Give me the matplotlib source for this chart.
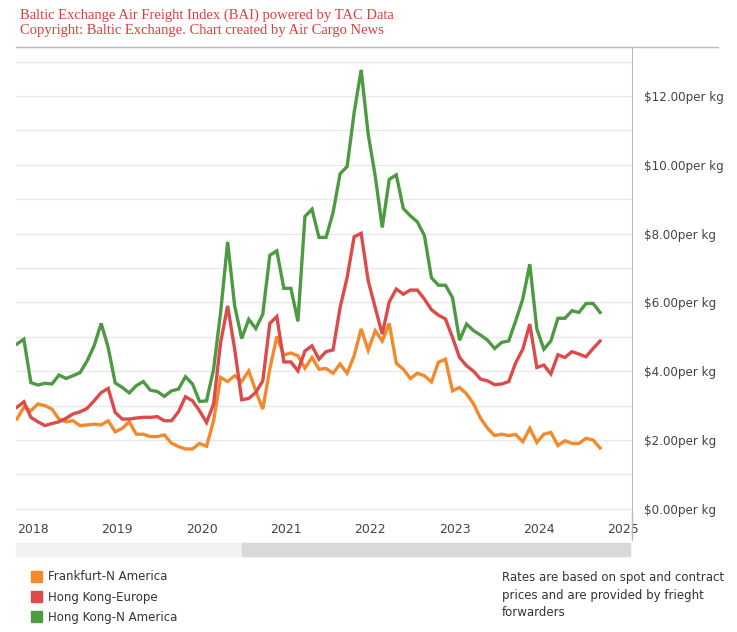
import numpy as np
import matplotlib.pyplot as plt
from matplotlib.patches import Rectangle

# monthly index values, USD per kg, first point ~Nov 2017
frankfurt_na = [2.61, 2.95, 2.85, 3.05, 3.00, 2.90, 2.61, 2.53, 2.56, 2.42,
                2.44, 2.46, 2.44, 2.56, 2.24, 2.34, 2.53, 2.17, 2.17, 2.10,
                2.10, 2.15, 1.91, 1.81, 1.74, 1.74, 1.90, 1.82, 2.56, 3.82,
                3.70, 3.87, 3.70, 4.01, 3.43, 2.90, 4.06, 5.01, 4.47, 4.53,
                4.45, 4.09, 4.40, 4.06, 4.08, 3.94, 4.21, 3.94, 4.45, 5.23,
                4.61, 5.18, 4.88, 5.39, 4.23, 4.06, 3.79, 3.94, 3.87, 3.69,
                4.26, 4.35, 3.43, 3.53, 3.34, 3.05, 2.63, 2.34, 2.13, 2.17,
                2.13, 2.16, 1.95, 2.34, 1.93, 2.17, 2.22, 1.84, 1.98, 1.90,
                1.90, 2.05, 2.00, 1.77]
hk_europe = [2.95, 3.11, 2.66, 2.53, 2.42, 2.48, 2.53, 2.63, 2.76, 2.82,
             2.92, 3.14, 3.38, 3.50, 2.80, 2.61, 2.61, 2.64, 2.66, 2.66,
             2.68, 2.56, 2.56, 2.82, 3.26, 3.14, 2.85, 2.51, 3.05, 4.84,
             5.90, 4.64, 3.17, 3.21, 3.38, 3.72, 5.39, 5.59, 4.27, 4.27,
             4.01, 4.59, 4.74, 4.35, 4.57, 4.62, 5.85, 6.72, 7.91, 8.01,
             6.63, 5.85, 5.08, 6.02, 6.39, 6.24, 6.36, 6.36, 6.10, 5.79,
             5.63, 5.52, 4.98, 4.40, 4.16, 4.00, 3.77, 3.72, 3.61, 3.63,
             3.70, 4.25, 4.64, 5.37, 4.11, 4.18, 3.92, 4.48, 4.40, 4.57,
             4.50, 4.42, 4.66, 4.88]
hk_na = [4.79, 4.93, 3.67, 3.60, 3.65, 3.63, 3.89, 3.79, 3.87, 3.96,
         4.30, 4.74, 5.39, 4.69, 3.66, 3.53, 3.37, 3.58, 3.70, 3.45,
         3.41, 3.27, 3.43, 3.48, 3.84, 3.63, 3.12, 3.14, 4.06, 5.71,
         7.76, 5.90, 4.95, 5.51, 5.24, 5.66, 7.37, 7.50, 6.41, 6.41,
         5.45, 8.50, 8.71, 7.89, 7.89, 8.61, 9.74, 9.95, 11.52, 12.76,
         10.89, 9.68, 8.18, 9.58, 9.71, 8.73, 8.52, 8.34, 7.95, 6.72,
         6.50, 6.50, 6.14, 4.90, 5.37, 5.18, 5.05, 4.90, 4.66, 4.84,
         4.88, 5.47, 6.10, 7.11, 5.23, 4.64, 4.88, 5.54, 5.54, 5.76,
         5.71, 5.97, 5.97, 5.71]
series_names = ['Frankfurt-N America', 'Hong Kong-Europe', 'Hong Kong-N America']
colors = ['#f28a2b', '#dc4a4a', '#4e9a43']
years = list(range(2018, 2026))

t = 2017.81 + np.arange(len(hk_na)) / 12

fig = plt.figure(figsize=(7.37, 6.32), dpi=100)
ax = fig.add_axes([0.0217, 0.190, 0.8358, 0.7358])

for vals, c in zip([frankfurt_na, hk_europe, hk_na], colors):
    ax.plot(t, vals, color=c, lw=2.4, solid_joinstyle='miter')

ax.set_xlim(2017.80, 2025.105)
ax.set_ylim(-0.09, 13.43)
ax.yaxis.tick_right()
ax.set_yticks(range(0, 13, 2))
ax.set_yticklabels([f'${v}.00per kg' for v in range(0, 13, 2)], color='#444444', fontsize=8.6)
ax.set_yticks(range(0, 14), minor=True)
ax.grid(True, which='both', axis='y', color='#e8e8e8', lw=1)
ax.set_xticks(years)
ax.set_xticklabels([str(y) for y in years], color='#444444', fontsize=9)
ax.tick_params(axis='y', which='both', length=0, pad=9)
ax.tick_params(axis='x', length=0, pad=8)
for s in ['left', 'bottom']:
    ax.spines[s].set_visible(False)
ax.spines['top'].set_color('#bbbbbb')
ax.spines['right'].set_color('#bbbbbb')
ax.set_axisbelow(True)

# title
fig.text(0.027, 0.987, 'Baltic Exchange Air Freight Index (BAI) powered by TAC Data\n'
         'Copyright: Baltic Exchange. Chart created by Air Cargo News',
         color='#e03c3c', fontsize=10.5, family='Liberation Serif', va='top', linespacing=1.2)
fig.add_artist(plt.Line2D([16 / 737, 718 / 737], [1 - 47 / 632] * 2, color='#bbbbbb', lw=1))
fig.add_artist(plt.Line2D([632 / 737] * 2, [1 - 540 / 632, 1 - 512 / 632], color='#bbbbbb', lw=1))

# scrollbar
fig.add_artist(Rectangle((16 / 737, 1 - 556 / 632), 614 / 737, 13 / 632, color='#f2f2f2'))
fig.add_artist(Rectangle((242 / 737, 1 - 556 / 632), 388 / 737, 13 / 632, color='#d9d9d9'))

# legend
for i, (name, c) in enumerate(zip(series_names, colors)):
    y = 1 - (577 + 20 * i) / 632
    fig.add_artist(Rectangle((31 / 737, y - 5 / 632), 11 / 737, 11 / 632, color=c))
    fig.text(48 / 737, y, name, fontsize=8.5, color='#333333', va='center')
fig.text(502 / 737, 1 - 571 / 632,
         'Rates are based on spot and contract\nprices and are provided by frieght\nforwarders',
         fontsize=8.5, color='#333333', va='top', linespacing=1.45)

fig.savefig('out.png', dpi=100)
